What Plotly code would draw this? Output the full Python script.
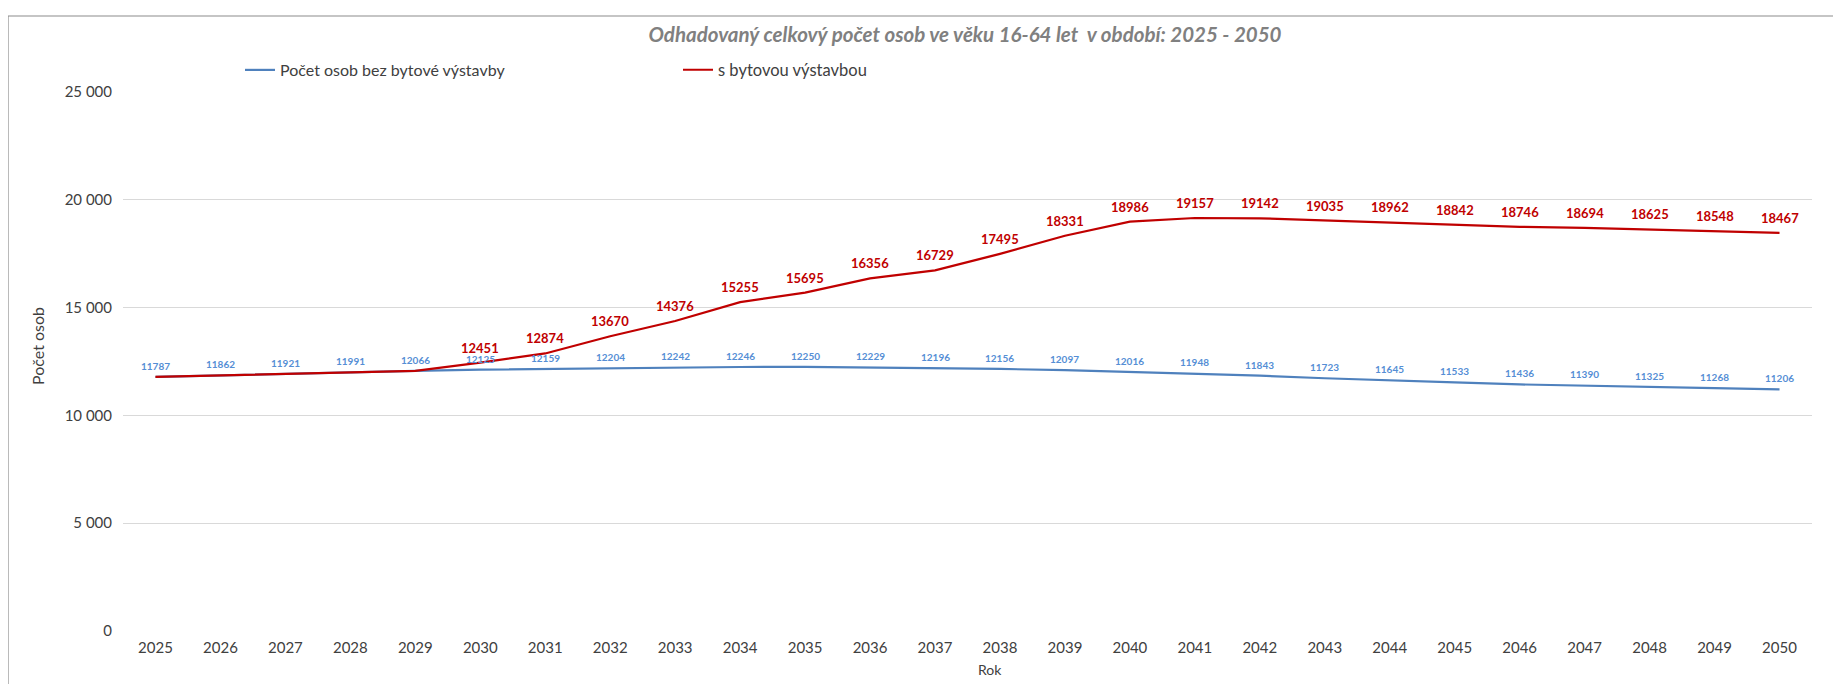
import plotly.graph_objects as go

years = [str(y) for y in range(2025, 2051)]
bez_vystavby = [11787, 11862, 11921, 11991, 12066, 12125, 12159, 12204, 12242, 12246,
                12250, 12229, 12196, 12156, 12097, 12016, 11948, 11843, 11723, 11645,
                11533, 11436, 11390, 11325, 11268, 11206]
s_vystavbou = [11787, 11862, 11921, 11991, 12066, 12451, 12874, 13670, 14376, 15255,
               15695, 16356, 16729, 17495, 18331, 18986, 19157, 19142, 19035, 18962,
               18842, 18746, 18694, 18625, 18548, 18467]
red_label_from = 2030
y_ticks = [0, 5000, 10000, 15000, 20000, 25000]
y_ticktext = ["0", "5 000", "10 000", "15 000", "20 000", "25 000"]

BLUE_LINE = "#4F81BD"
BLUE_TXT = "#558ED5"
RED = "#C00000"
FONT = "Lato"
TXT = "#404040"

OFF = 8  # page body margin
W, H = 1841 - OFF, 684 - OFF
L, T = 123 - OFF, 92 - OFF
R = W - (1812 - OFF)
B = H - (631 - OFF)
pw, ph = W - L - R, H - T - B

def px_x(x):
    return (x - OFF - L) / pw

def px_y(y):
    return (H - B - (y - OFF)) / ph

fig = go.Figure()
fig.add_trace(go.Scatter(x=years, y=bez_vystavby, mode="lines",
                         name="Počet osob bez bytové výstavby",
                         line=dict(color=BLUE_LINE, width=2.2), legend="legend"))
fig.add_trace(go.Scatter(x=years, y=s_vystavbou, mode="lines",
                         name="s bytovou výstavbou",
                         line=dict(color=RED, width=2.2), legend="legend2"))

annotations = []
for i, v in enumerate(bez_vystavby):
    annotations.append(dict(x=i, y=v, xref="x", yref="y", text=str(v), showarrow=False,
                            yshift=11, font=dict(family=FONT, size=10, color=BLUE_TXT, weight="bold")))
for i, (yr, v) in enumerate(zip(years, s_vystavbou)):
    if int(yr) >= red_label_from:
        annotations.append(dict(x=i, y=v, xref="x", yref="y", text=str(v), showarrow=False,
                                yshift=15, font=dict(family=FONT, size=13, color=RED, weight="bold")))

annotations.append(dict(x=px_x(37), y=px_y(346), xref="paper", yref="paper", text="Počet osob",
                        textangle=-90, showarrow=False, xanchor="center", yanchor="middle",
                        font=dict(family=FONT, size=16, color=TXT)))
annotations.append(dict(x=px_x(990), y=px_y(669), xref="paper", yref="paper", text="Rok",
                        showarrow=False, xanchor="center", yanchor="middle",
                        font=dict(family=FONT, size=14, color=TXT)))

fig.update_layout(
    width=W, height=H,
    margin=dict(l=L, r=R, t=T, b=B),
    paper_bgcolor="white", plot_bgcolor="white",
    font=dict(family=FONT, color=TXT),
    showlegend=True,
    title=dict(text="<b><i>Odhadovaný celkový počet osob ve věku 16-64 let  v období: 2025 - 2050</i></b>",
               x=(965 - OFF) / W, y=1 - (35 - OFF) / H, xanchor="center", yanchor="middle",
               font=dict(family=FONT, size=20.5, color="#808080")),
    xaxis=dict(type="category", range=[-0.5, len(years) - 0.5], showgrid=False,
               showline=False, zeroline=False, ticks="", ticklabelstandoff=6,
               tickfont=dict(family=FONT, size=15, color=TXT)),
    yaxis=dict(range=[0, 25000], tickvals=y_ticks, ticktext=y_ticktext,
               gridcolor="#D9D9D9", gridwidth=1, zeroline=False, showline=False,
               ticks="", ticklabelstandoff=10,
               tickfont=dict(family=FONT, size=15, color=TXT)),
    legend=dict(orientation="h", x=px_x(240), y=px_y(70), xanchor="left", yanchor="middle",
                font=dict(family=FONT, size=16, color=TXT), bgcolor="rgba(0,0,0,0)",
                itemwidth=30),
    legend2=dict(orientation="h", x=px_x(678), y=px_y(70), xanchor="left", yanchor="middle",
                 font=dict(family=FONT, size=16.5, color=TXT), bgcolor="rgba(0,0,0,0)",
                 itemwidth=30),
    annotations=annotations,
    shapes=[dict(type="rect", xref="paper", yref="paper",
                 x0=px_x(8), x1=px_x(1860), y0=px_y(700), y1=px_y(16),
                 line=dict(color="#8C8C8C", width=1.2), fillcolor="rgba(0,0,0,0)", layer="below")],
)

fig.write_html("out.html")
